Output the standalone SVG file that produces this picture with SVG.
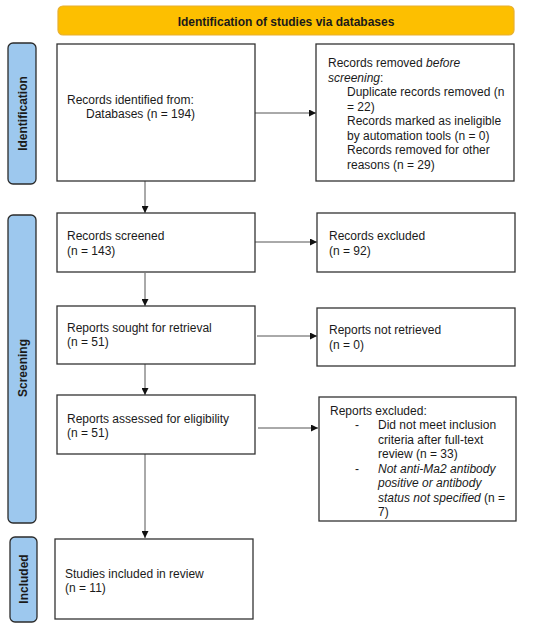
<svg xmlns="http://www.w3.org/2000/svg" width="550" height="628" viewBox="0 0 550 628">
<defs>
<style>
text{font-family:"Liberation Sans",Arial,sans-serif;font-size:12px;fill:#1a1a1a}
.b{font-weight:bold}
.box{fill:#fff;stroke:#333;stroke-width:1.3}
.side{fill:#9dc8ee;stroke:#2b2b2b;stroke-width:1.3}
.ban{fill:#fdbf00;stroke:#e8b030;stroke-width:1.2}
.c{fill:none;stroke:#555;stroke-width:1}
</style>
<marker id="ah" viewBox="0 0 10 10" refX="10" refY="5" markerWidth="7" markerHeight="7" markerUnits="userSpaceOnUse" orient="auto">
<path d="M0,0 L10,5 L0,10 z" fill="#111"/>
</marker>
</defs>
<rect width="550" height="628" fill="#fff"/>

<g id="banner">
<rect class="ban" x="58" y="6" width="456" height="29" rx="5"/>
<text class="b" x="286" y="26" text-anchor="middle">Identification of studies via databases</text>
</g>

<g id="label-identification">
<rect class="side" x="8" y="43" width="28" height="141" rx="5"/>
<text class="b" transform="translate(26.5,113.5) rotate(-90)" text-anchor="middle">Identification</text>
</g>
<g id="label-screening">
<rect class="side" x="8" y="215" width="28" height="308" rx="5"/>
<text class="b" transform="translate(26.5,368) rotate(-90)" text-anchor="middle">Screening</text>
</g>
<g id="label-included">
<rect class="side" x="10" y="537" width="27" height="85" rx="5"/>
<text class="b" transform="translate(28,579) rotate(-90)" text-anchor="middle">Included</text>
</g>

<g id="connectors">
<line class="c" x1="255" y1="113" x2="316" y2="113" marker-end="url(#ah)"/>
<line class="c" x1="145" y1="181" x2="145" y2="213" marker-end="url(#ah)"/>
<line class="c" x1="255" y1="242" x2="317" y2="242" marker-end="url(#ah)"/>
<line class="c" x1="145" y1="273" x2="145" y2="306" marker-end="url(#ah)"/>
<line class="c" x1="257" y1="336" x2="317" y2="336" marker-end="url(#ah)"/>
<line class="c" x1="145" y1="364" x2="145" y2="395" marker-end="url(#ah)"/>
<line class="c" x1="258" y1="428" x2="318" y2="428" marker-end="url(#ah)"/>
<line class="c" x1="145" y1="454" x2="145" y2="538" marker-end="url(#ah)"/>
</g>

<g id="records-identified">
<rect class="box" x="57" y="44" width="198" height="137"/>
<text x="67" y="103.5">Records identified from:</text>
<text x="86" y="118">Databases (n = 194)</text>
</g>

<g id="records-removed">
<rect class="box" x="316" y="44" width="198" height="137"/>
<text x="328" y="67">Records removed <tspan font-style="italic">before</tspan></text>
<text x="328" y="81.5"><tspan font-style="italic">screening</tspan>:</text>
<text x="347" y="96">Duplicate records removed (n</text>
<text x="347" y="110.5">= 22)</text>
<text x="347" y="125">Records marked as ineligible</text>
<text x="347" y="139.5">by automation tools (n = 0)</text>
<text x="347" y="154">Records removed for other</text>
<text x="347" y="168.5">reasons (n = 29)</text>
</g>

<g id="records-screened">
<rect class="box" x="57" y="213" width="198" height="59"/>
<text x="67" y="240">Records screened</text>
<text x="67" y="254.5">(n = 143)</text>
</g>

<g id="records-excluded">
<rect class="box" x="317" y="213" width="198" height="59"/>
<text x="329" y="240">Records excluded</text>
<text x="329" y="254.5">(n = 92)</text>
</g>

<g id="reports-sought">
<rect class="box" x="57" y="306" width="198" height="58"/>
<text x="67" y="331.5">Reports sought for retrieval</text>
<text x="67" y="346">(n = 51)</text>
</g>

<g id="reports-not-retrieved">
<rect class="box" x="317" y="308" width="198" height="58"/>
<text x="329" y="334">Reports not retrieved</text>
<text x="329" y="348.5">(n = 0)</text>
</g>

<g id="reports-assessed">
<rect class="box" x="57" y="395" width="198" height="59"/>
<text x="67" y="422.5">Reports assessed for eligibility</text>
<text x="67" y="437">(n = 51)</text>
</g>

<g id="reports-excluded">
<rect class="box" x="319" y="397" width="197" height="124"/>
<text x="330" y="414.5">Reports excluded:</text>
<text x="355" y="429">-</text>
<text x="378" y="429">Did not meet inclusion</text>
<text x="378" y="443.5">criteria after full-text</text>
<text x="378" y="458">review (n = 33)</text>
<text x="355" y="472.5">-</text>
<text x="378" y="472.5" font-style="italic">Not anti-Ma2 antibody</text>
<text x="378" y="487" font-style="italic">positive or antibody</text>
<text x="378" y="501.5"><tspan font-style="italic">status not specified</tspan> (n =</text>
<text x="378" y="516">7)</text>
</g>

<g id="studies-included">
<rect class="box" x="55" y="539" width="198" height="80"/>
<text x="65" y="577.5">Studies included in review</text>
<text x="65" y="592">(n = 11)</text>
</g>
</svg>
